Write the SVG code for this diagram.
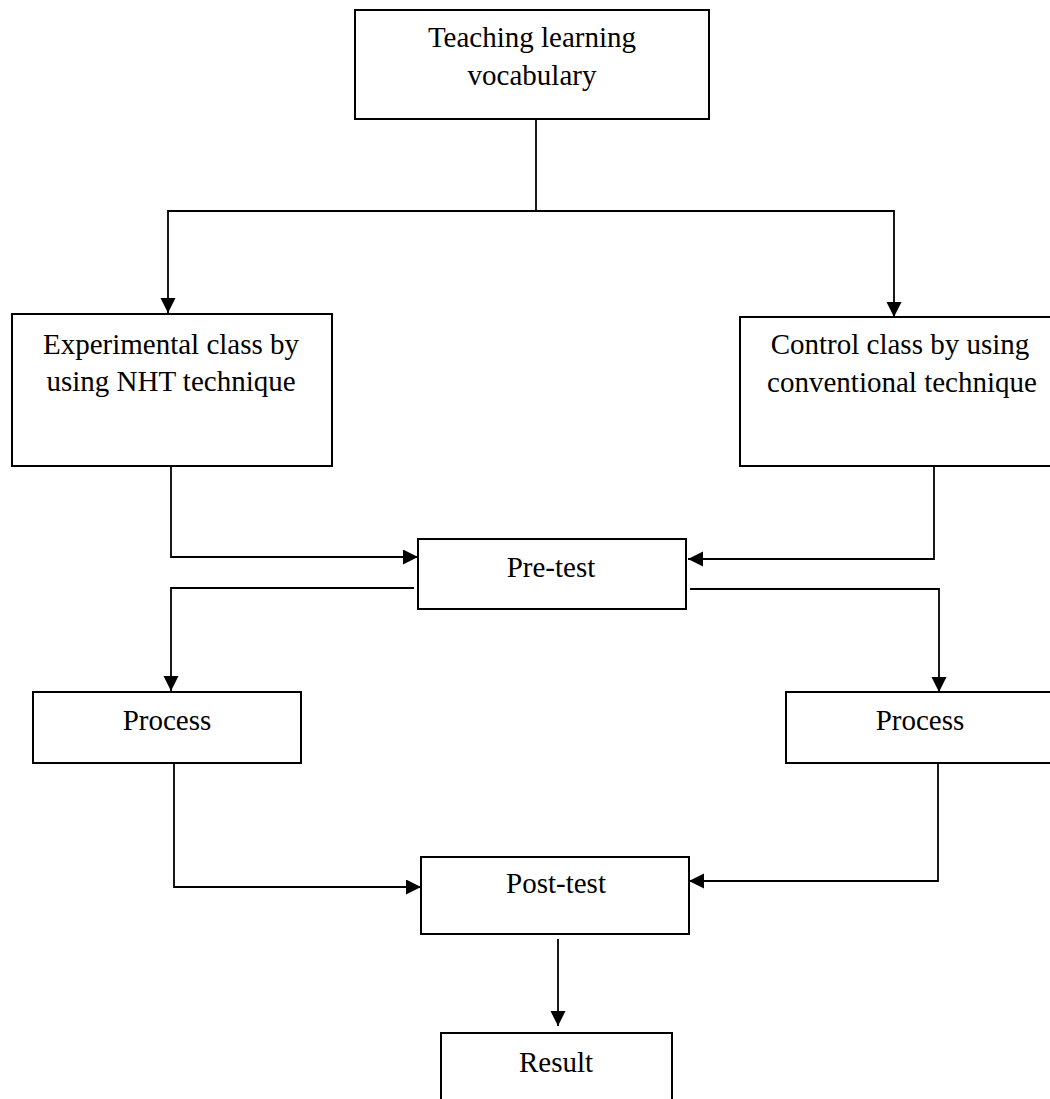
<svg xmlns="http://www.w3.org/2000/svg" width="1050" height="1099" viewBox="0 0 1050 1099">
<style>
.box{fill:#fff;stroke:#000;stroke-width:2}
.lbl{font-family:"Liberation Serif","Times New Roman",serif;font-size:29px;fill:#000;text-anchor:middle}
.con{fill:none;stroke:#000;stroke-width:1.8}
.arr{marker-end:url(#ah)}
</style>
<defs>
<marker id="ah" markerUnits="userSpaceOnUse" markerWidth="16" markerHeight="16" refX="15" refY="7.5" orient="auto">
<path d="M0,0 L15,7.5 L0,15 z" fill="#000"/>
</marker>
</defs>
<rect width="1050" height="1099" fill="#fff"/>
<g id="connectors">
<path class="con" d="M536,119 V211"/>
<path class="con arr" d="M536,211 H168 V313"/>
<path class="con arr" d="M536,211 H894 V317"/>
<path class="con arr" d="M171,466 V557 H418"/>
<path class="con arr" d="M934,466 V559 H688"/>
<path class="con arr" d="M414,588 H171 V691"/>
<path class="con arr" d="M690,589 H939 V692"/>
<path class="con arr" d="M174,763 V887 H421"/>
<path class="con arr" d="M938,763 V881 H689"/>
<path class="con arr" d="M558,939 V1026"/>
</g>
<g id="n-teaching">
<rect class="box" x="355" y="10" width="354" height="109"/>
<text class="lbl" x="532" y="47">Teaching learning</text>
<text class="lbl" x="532" y="85">vocabulary</text>
</g>
<g id="n-experimental">
<rect class="box" x="12" y="314" width="320" height="152"/>
<text class="lbl" x="171" y="354">Experimental class by</text>
<text class="lbl" x="171" y="391">using NHT technique</text>
</g>
<g id="n-control">
<rect class="box" x="740" y="317" width="320" height="149"/>
<text class="lbl" x="900" y="354">Control class by using</text>
<text class="lbl" x="902" y="392">conventional technique</text>
</g>
<g id="n-pretest">
<rect class="box" x="418" y="539" width="268" height="70"/>
<text class="lbl" x="551" y="577">Pre-test</text>
</g>
<g id="n-process-left">
<rect class="box" x="33" y="692" width="268" height="71"/>
<text class="lbl" x="167" y="730">Process</text>
</g>
<g id="n-process-right">
<rect class="box" x="786" y="692" width="280" height="71"/>
<text class="lbl" x="920" y="730">Process</text>
</g>
<g id="n-posttest">
<rect class="box" x="421" y="857" width="268" height="77"/>
<text class="lbl" x="556" y="893">Post-test</text>
</g>
<g id="n-result">
<rect class="box" x="441" y="1033" width="231" height="90"/>
<text class="lbl" x="556" y="1072">Result</text>
</g>
</svg>
